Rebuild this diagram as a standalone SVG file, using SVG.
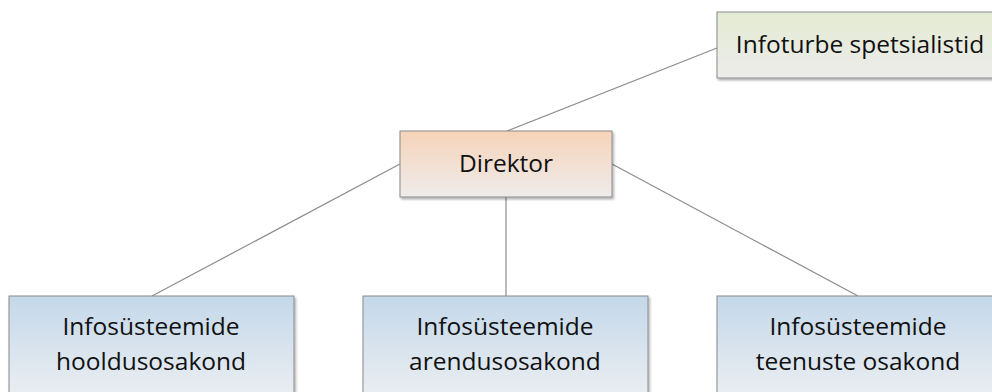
<svg xmlns="http://www.w3.org/2000/svg" width="992" height="392" viewBox="0 0 992 392">
<defs>
<linearGradient id="gGreen" x1="0" y1="0" x2="0" y2="1"><stop offset="0" stop-color="#e4ebd3"/><stop offset="1" stop-color="#ececea"/></linearGradient>
<linearGradient id="gOrange" x1="0" y1="0" x2="0" y2="1"><stop offset="0" stop-color="#f6d3b9"/><stop offset="1" stop-color="#eeeceb"/></linearGradient>
<linearGradient id="gBlue" x1="0" y1="0" x2="0" y2="1"><stop offset="0" stop-color="#c4d8ea"/><stop offset="1" stop-color="#eef0f2"/></linearGradient>
<filter id="sh" x="-10%" y="-10%" width="130%" height="140%"><feDropShadow dx="1.5" dy="2" stdDeviation="1.2" flood-color="#000" flood-opacity="0.3"/></filter>
</defs>
<style>
.box{stroke:#8a8a8a;stroke-width:1;filter:url(#sh)}
.lbl{font-family:"Open Sans","Liberation Sans",sans-serif;font-size:24.5px;fill:#111;text-anchor:middle}
.con line{stroke:#8c8c8c;stroke-width:1.2}
</style>
<g id="connectors" class="con">
<line x1="507" y1="131" x2="717" y2="48"/>
<line x1="400" y1="164" x2="152" y2="296"/>
<line x1="506" y1="197" x2="506" y2="296"/>
<line x1="612" y1="164" x2="858" y2="296"/>
</g>
<g id="infoturbe">
<rect class="box" x="717" y="12" width="290" height="66" fill="url(#gGreen)"/>
<text class="lbl" x="860" y="53">Infoturbe spetsialistid</text>
</g>
<g id="direktor">
<rect class="box" x="400" y="131" width="212" height="66" fill="url(#gOrange)"/>
<text class="lbl" x="506" y="172">Direktor</text>
</g>
<g id="hooldus">
<rect class="box" x="9" y="296" width="285" height="110" fill="url(#gBlue)"/>
<text class="lbl" x="151" y="335">Infosüsteemide</text>
<text class="lbl" x="151" y="370">hooldusosakond</text>
</g>
<g id="arendus">
<rect class="box" x="363" y="296" width="285" height="110" fill="url(#gBlue)"/>
<text class="lbl" x="505" y="335">Infosüsteemide</text>
<text class="lbl" x="505" y="370">arendusosakond</text>
</g>
<g id="teenuste">
<rect class="box" x="717" y="296" width="290" height="110" fill="url(#gBlue)"/>
<text class="lbl" x="858" y="335">Infosüsteemide</text>
<text class="lbl" x="858" y="370">teenuste osakond</text>
</g>
</svg>
